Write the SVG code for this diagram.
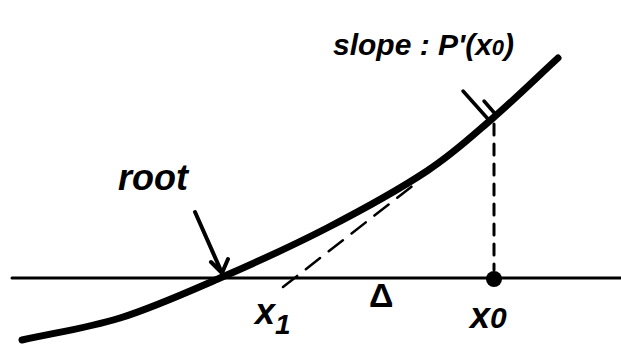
<svg xmlns="http://www.w3.org/2000/svg" width="621" height="360" viewBox="0 0 621 360">
<style>
.ink{fill:none;stroke:#000;stroke-linecap:round;stroke-linejoin:round}
.hand{font-family:"Liberation Sans","DejaVu Sans",sans-serif;font-style:italic;font-weight:bold;fill:#000}
.up{font-style:normal}
</style>
<rect width="621" height="360" fill="#fff"/>
<g id="axis">
<line class="ink" x1="12" y1="278" x2="621" y2="278" stroke-width="3"/>
</g>
<g id="curve">
<path class="ink" d="M22,340 C54.7,332.7 87,328.3 120,318 C153,307.7 185.5,293 220,278 C254.5,263 292.5,245.8 327,228 C361.5,210.2 399.3,189.3 427,171 C454.7,152.7 471.2,136.8 493,118 C514.8,99.2 536.3,78 558,58" stroke-width="7"/>
</g>
<g id="connectors">
<line class="ink" x1="283" y1="287" x2="420" y2="180" stroke-width="2.5" stroke-dasharray="18 11"/>
<line class="ink" x1="494" y1="124" x2="494" y2="270" stroke-width="3" stroke-dasharray="11 9"/>
<path class="ink" d="M195,212 L222,273 M211,262 L222,273 L228,259" stroke-width="4"/>
<path class="ink" d="M463,91 L488,119 M484,101 L497,116" stroke-width="3.5"/>
</g>
<g id="x0">
<circle cx="494" cy="279" r="8" fill="#000"/>
<text class="hand" x="470" y="328" font-size="36">x<tspan font-size="30">0</tspan></text>
</g>
<g id="x1">
<text class="hand" x="255" y="324" font-size="36">x<tspan font-size="28" dy="10">1</tspan></text>
</g>
<g id="delta">
<text class="hand up" x="369" y="307" font-size="34">Δ</text>
</g>
<g id="root">
<text class="hand" x="118" y="190" font-size="36">root</text>
</g>
<g id="slope">
<text class="hand" x="333" y="55" font-size="30">slope : P'(x<tspan font-size="22">0</tspan>)</text>
</g>
</svg>
